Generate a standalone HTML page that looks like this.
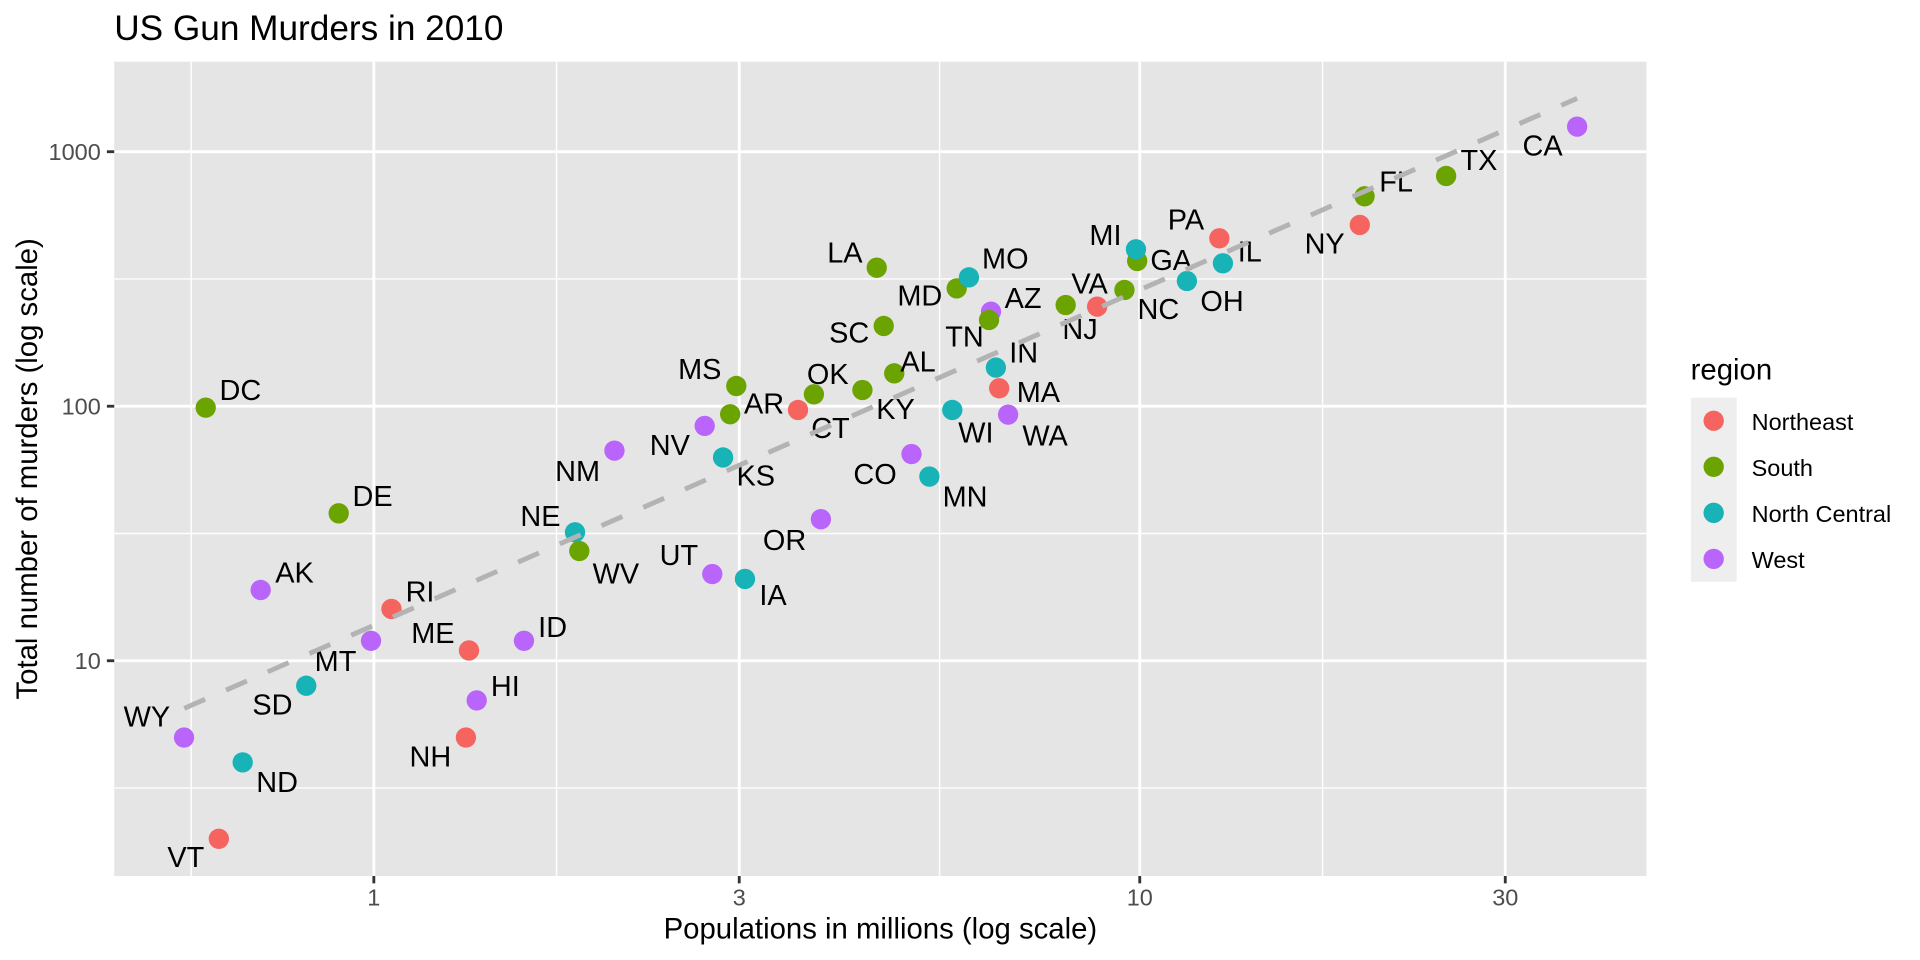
<!DOCTYPE html>
<html>
<head>
<meta charset="utf-8">
<style>
  html, body { margin: 0; padding: 0; background: #ffffff; }
  svg { display: block; }
  text { font-family: "Liberation Sans", Arial, sans-serif; }
</style>
</head>
<body>
<svg width="1920" height="960" viewBox="0 0 1568 784" xmlns="http://www.w3.org/2000/svg">
  <rect x="0" y="0" width="1568" height="784" fill="#ffffff"/>

  <!-- Title -->
  <text x="93.3" y="32.7" font-size="28.75" fill="#000000">US Gun Murders in 2010</text>

  <!-- Panel -->
  <rect x="93.3" y="50.4" width="1251.3" height="665" fill="#E5E5E5"/>

  <!-- minor gridlines -->
  <g stroke="#ffffff" stroke-width="1.16" fill="none">
    <line x1="156.1" y1="50.4" x2="156.1" y2="715.4"/>
    <line x1="454.5" y1="50.4" x2="454.5" y2="715.4"/>
    <line x1="767.3" y1="50.4" x2="767.3" y2="715.4"/>
    <line x1="1080.1" y1="50.4" x2="1080.1" y2="715.4"/>
    <line x1="93.3" y1="643.5" x2="1344.6" y2="643.5"/>
    <line x1="93.3" y1="435.7" x2="1344.6" y2="435.7"/>
    <line x1="93.3" y1="227.8" x2="1344.6" y2="227.8"/>
  </g>
  <!-- major gridlines -->
  <g stroke="#ffffff" stroke-width="2.32" fill="none">
    <line x1="305.3" y1="50.4" x2="305.3" y2="715.4"/>
    <line x1="603.7" y1="50.4" x2="603.7" y2="715.4"/>
    <line x1="930.8" y1="50.4" x2="930.8" y2="715.4"/>
    <line x1="1229.3" y1="50.4" x2="1229.3" y2="715.4"/>
    <line x1="93.3" y1="539.6" x2="1344.6" y2="539.6"/>
    <line x1="93.3" y1="331.75" x2="1344.6" y2="331.75"/>
    <line x1="93.3" y1="123.9" x2="1344.6" y2="123.9"/>
  </g>

  <!-- Points (data order) -->
  <g stroke="none">
    <circle cx="730.3" cy="304.9" r="8.3" fill="#6BA300"/><!-- AL -->
    <circle cx="212.9" cy="481.8" r="8.3" fill="#B964FA"/><!-- AK -->
    <circle cx="809.3" cy="254.5" r="8.3" fill="#B964FA"/><!-- AZ -->
    <circle cx="596.3" cy="338.3" r="8.3" fill="#6BA300"/><!-- AR -->
    <circle cx="1288" cy="103.4" r="8.3" fill="#B964FA"/><!-- CA -->
    <circle cx="744.4" cy="370.8" r="8.3" fill="#B964FA"/><!-- CO -->
    <circle cx="651.7" cy="334.8" r="8.3" fill="#F5645E"/><!-- CT -->
    <circle cx="276.6" cy="419.2" r="8.3" fill="#6BA300"/><!-- DE -->
    <circle cx="168" cy="332.9" r="8.3" fill="#6BA300"/><!-- DC -->
    <circle cx="1114.4" cy="160.3" r="8.3" fill="#6BA300"/><!-- FL -->
    <circle cx="928.7" cy="213.1" r="8.3" fill="#6BA300"/><!-- GA -->
    <circle cx="389.3" cy="572" r="8.3" fill="#B964FA"/><!-- HI -->
    <circle cx="427.9" cy="523.3" r="8.3" fill="#B964FA"/><!-- ID -->
    <circle cx="998.7" cy="215" r="8.3" fill="#17B3B7"/><!-- IL -->
    <circle cx="813.3" cy="300.2" r="8.3" fill="#17B3B7"/><!-- IN -->
    <circle cx="608.4" cy="472.8" r="8.3" fill="#17B3B7"/><!-- IA -->
    <circle cx="590.5" cy="373.6" r="8.3" fill="#17B3B7"/><!-- KS -->
    <circle cx="704.3" cy="318.5" r="8.3" fill="#6BA300"/><!-- KY -->
    <circle cx="716" cy="218.6" r="8.3" fill="#6BA300"/><!-- LA -->
    <circle cx="383" cy="531.2" r="8.3" fill="#F5645E"/><!-- ME -->
    <circle cx="781.3" cy="235.5" r="8.3" fill="#6BA300"/><!-- MD -->
    <circle cx="816" cy="317.1" r="8.3" fill="#F5645E"/><!-- MA -->
    <circle cx="927.7" cy="203.6" r="8.3" fill="#17B3B7"/><!-- MI -->
    <circle cx="759" cy="389.2" r="8.3" fill="#17B3B7"/><!-- MN -->
    <circle cx="601.3" cy="315.2" r="8.3" fill="#6BA300"/><!-- MS -->
    <circle cx="791.3" cy="226.5" r="8.3" fill="#17B3B7"/><!-- MO -->
    <circle cx="303" cy="523.3" r="8.3" fill="#B964FA"/><!-- MT -->
    <circle cx="469.6" cy="434.7" r="8.3" fill="#17B3B7"/><!-- NE -->
    <circle cx="575.5" cy="347.8" r="8.3" fill="#B964FA"/><!-- NV -->
    <circle cx="380.5" cy="602.3" r="8.3" fill="#F5645E"/><!-- NH -->
    <circle cx="896" cy="250.4" r="8.3" fill="#F5645E"/><!-- NJ -->
    <circle cx="501.8" cy="368" r="8.3" fill="#B964FA"/><!-- NM -->
    <circle cx="1110.5" cy="183.7" r="8.3" fill="#F5645E"/><!-- NY -->
    <circle cx="918.3" cy="236.8" r="8.3" fill="#6BA300"/><!-- NC -->
    <circle cx="198.2" cy="622.6" r="8.3" fill="#17B3B7"/><!-- ND -->
    <circle cx="969.3" cy="229.5" r="8.3" fill="#17B3B7"/><!-- OH -->
    <circle cx="664.7" cy="322" r="8.3" fill="#6BA300"/><!-- OK -->
    <circle cx="670.4" cy="424" r="8.3" fill="#B964FA"/><!-- OR -->
    <circle cx="995.8" cy="194.6" r="8.3" fill="#F5645E"/><!-- PA -->
    <circle cx="319.7" cy="497.3" r="8.3" fill="#F5645E"/><!-- RI -->
    <circle cx="721.7" cy="266.2" r="8.3" fill="#6BA300"/><!-- SC -->
    <circle cx="250.1" cy="560" r="8.3" fill="#17B3B7"/><!-- SD -->
    <circle cx="807.7" cy="261.3" r="8.3" fill="#6BA300"/><!-- TN -->
    <circle cx="1181" cy="143.7" r="8.3" fill="#6BA300"/><!-- TX -->
    <circle cx="581.7" cy="468.8" r="8.3" fill="#B964FA"/><!-- UT -->
    <circle cx="178.7" cy="685" r="8.3" fill="#F5645E"/><!-- VT -->
    <circle cx="870.3" cy="249.1" r="8.3" fill="#6BA300"/><!-- VA -->
    <circle cx="823.3" cy="338.6" r="8.3" fill="#B964FA"/><!-- WA -->
    <circle cx="473.1" cy="450" r="8.3" fill="#6BA300"/><!-- WV -->
    <circle cx="777.7" cy="334.8" r="8.3" fill="#17B3B7"/><!-- WI -->
    <circle cx="150.3" cy="602.3" r="8.3" fill="#B964FA"/><!-- WY -->
  </g>

  <!-- State labels -->
  <g font-size="23.6" fill="#000000" text-anchor="middle">
    <text x="1259.8" y="127.1">CA</text>
    <text x="1207.8" y="138.8">TX</text>
    <text x="1140.2" y="156.2">FL</text>
    <text x="1081.8" y="206.9">NY</text>
    <text x="968.5" y="187.6">PA</text>
    <text x="1020.7" y="213.7">IL</text>
    <text x="902.8" y="200.1">MI</text>
    <text x="956.5" y="220.5">GA</text>
    <text x="998" y="254">OH</text>
    <text x="946" y="260.5">NC</text>
    <text x="889.8" y="239.5">VA</text>
    <text x="882" y="276.8">NJ</text>
    <text x="821" y="219.1">MO</text>
    <text x="835.5" y="251.5">AZ</text>
    <text x="751.2" y="249.6">MD</text>
    <text x="690" y="214.2">LA</text>
    <text x="787.7" y="283.1">TN</text>
    <text x="693.5" y="279.8">SC</text>
    <text x="836" y="295.9">IN</text>
    <text x="749.7" y="303.2">AL</text>
    <text x="848" y="328.5">MA</text>
    <text x="676" y="313.6">OK</text>
    <text x="571.5" y="309.5">MS</text>
    <text x="624" y="337.5">AR</text>
    <text x="731.3" y="342.2">KY</text>
    <text x="678.2" y="357.9">CT</text>
    <text x="797" y="361.2">WI</text>
    <text x="853.5" y="364">WA</text>
    <text x="547" y="371.6">NV</text>
    <text x="617.2" y="396.6">KS</text>
    <text x="714.6" y="395.3">CO</text>
    <text x="788.1" y="413.8">MN</text>
    <text x="471.7" y="392.8">NM</text>
    <text x="640.7" y="449.2">OR</text>
    <text x="554.4" y="461.4">UT</text>
    <text x="631.3" y="494.1">IA</text>
    <text x="441.4" y="429.5">NE</text>
    <text x="503" y="476.4">WV</text>
    <text x="196.3" y="326.6">DC</text>
    <text x="304.3" y="413.2">DE</text>
    <text x="240.5" y="475.8">AK</text>
    <text x="343" y="491.3">RI</text>
    <text x="353.5" y="525">ME</text>
    <text x="451.3" y="520.2">ID</text>
    <text x="274" y="547.8">MT</text>
    <text x="222.5" y="583.6">SD</text>
    <text x="412.7" y="568.3">HI</text>
    <text x="351.5" y="626.1">NH</text>
    <text x="120" y="593.5">WY</text>
    <text x="226.3" y="646.8">ND</text>
    <text x="151.8" y="708">VT</text>
  </g>

  <!-- Dashed reference line -->
  <line x1="150.5" y1="578.5" x2="1288" y2="80.3" stroke="#B3B3B3" stroke-width="4" stroke-dasharray="18.6 18.6" fill="none"/>

  <!-- Axis ticks -->
  <g stroke="#333333" stroke-width="2.32">
    <line x1="305.3" y1="715.4" x2="305.3" y2="721.4"/>
    <line x1="603.7" y1="715.4" x2="603.7" y2="721.4"/>
    <line x1="930.8" y1="715.4" x2="930.8" y2="721.4"/>
    <line x1="1229.3" y1="715.4" x2="1229.3" y2="721.4"/>
    <line x1="87.3" y1="539.6" x2="93.3" y2="539.6"/>
    <line x1="87.3" y1="331.75" x2="93.3" y2="331.75"/>
    <line x1="87.3" y1="123.9" x2="93.3" y2="123.9"/>
  </g>

  <!-- Axis tick labels -->
  <g font-size="19.17" fill="#4D4D4D">
    <text x="305.3" y="739.6" text-anchor="middle">1</text>
    <text x="603.7" y="739.6" text-anchor="middle">3</text>
    <text x="930.8" y="739.6" text-anchor="middle">10</text>
    <text x="1229.3" y="739.6" text-anchor="middle">30</text>
    <text x="82.3" y="546.5" text-anchor="end">10</text>
    <text x="82.3" y="338.6" text-anchor="end">100</text>
    <text x="82.3" y="130.8" text-anchor="end">1000</text>
  </g>

  <!-- Axis titles -->
  <text x="719" y="766.3" font-size="23.96" fill="#000000" text-anchor="middle">Populations in millions (log scale)</text>
  <text transform="translate(30.2,382.9) rotate(-90)" font-size="23.96" fill="#000000" text-anchor="middle">Total number of murders (log scale)</text>

  <!-- Legend -->
  <text x="1380.7" y="309.8" font-size="23.96" fill="#000000">region</text>
  <rect x="1380.9" y="324.8" width="37.4" height="150.3" fill="#EEEEEE"/>
  <circle cx="1399.5" cy="343.6" r="8.3" fill="#F5645E"/>
  <circle cx="1399.5" cy="381.2" r="8.3" fill="#6BA300"/>
  <circle cx="1399.5" cy="418.8" r="8.3" fill="#17B3B7"/>
  <circle cx="1399.5" cy="456.4" r="8.3" fill="#B964FA"/>
  <g font-size="19.17" fill="#000000">
    <text x="1430.5" y="351.2">Northeast</text>
    <text x="1430.5" y="388.8">South</text>
    <text x="1430.5" y="426.3">North Central</text>
    <text x="1430.5" y="463.8">West</text>
  </g>
</svg>
</body>
</html>
